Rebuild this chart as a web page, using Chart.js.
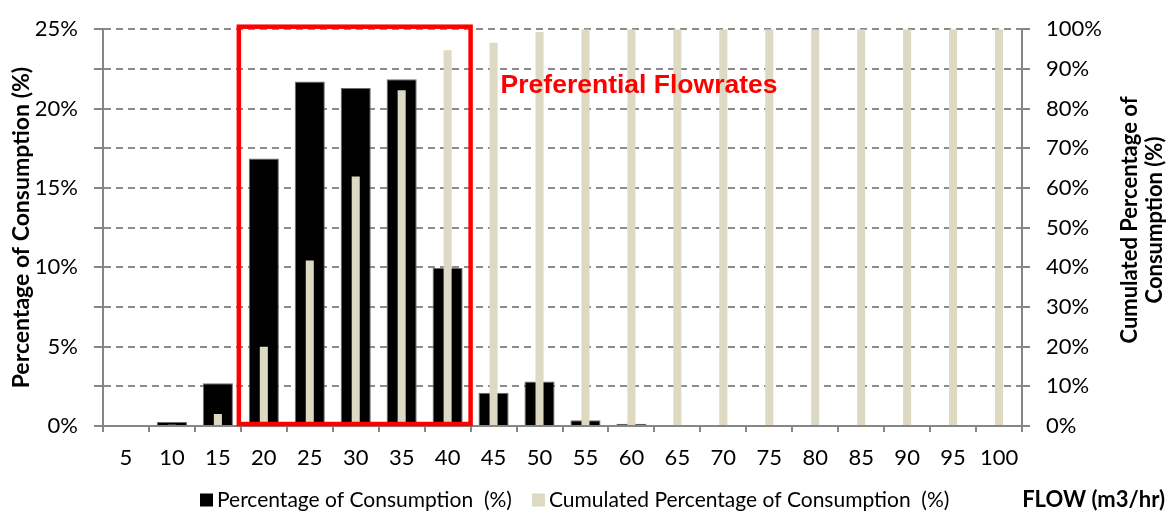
<!DOCTYPE html>
<html>
<head>
<meta charset="utf-8">
<script src="https://cdn.jsdelivr.net/npm/chart.js@4.4.1/dist/chart.umd.min.js"></script>
<style>
  html, body { margin: 0; padding: 0; background: #ffffff; }
  #wrap { width: 1175px; height: 511px; position: relative; }
</style>
</head>
<body>
<div id="wrap"><canvas id="c" width="1175" height="511"></canvas></div>
<script>
// ---- data ----
const flowCategories = ['5','10','15','20','25','30','35','40','45','50','55','60','65','70','75','80','85','90','95','100'];
const consumptionPct = [0, 0.25, 2.7, 16.85, 21.7, 21.3, 21.85, 9.95, 2.1, 2.8, 0.37, 0.14, 0, 0, 0, 0, 0, 0, 0, 0];
const cumulatedPct   = [0, 0.3, 3.0, 20.0, 41.7, 62.9, 84.6, 94.7, 96.6, 99.3, 100, 100, 100, 100, 100, 100, 100, 100, 100, 100];
const leftAxisMax = 25;
const leftTickStep = 2.5;
const leftLabelStep = 5;
const rightAxisMax = 100;
const rightTickStep = 10;
const highlightRange = ['20', '40'];
const highlightLabel = 'Preferential Flowrates';
const seriesNames = ['Percentage of Consumption  (%)', 'Cumulated Percentage of Consumption  (%)'];
const leftTitle = 'Percentage of Consumption (%)';
const rightTitle = ['Cumulated Percentage of', 'Consumption (%)'];
const flowTitle = 'FLOW (m3/hr)';

Chart.defaults.font.family = "Lato, 'Liberation Sans', sans-serif";
Chart.defaults.color = '#000000';

const AXIS_GREY = '#868686';
const GRID_GREY = '#8c8c8c';
const BEIGE = '#DDD9C3';

const highlightPlugin = {
  id: 'highlight',
  afterDatasetsDraw(chart) {
    const {ctx, scales: {x, y}} = chart;
    const i0 = flowCategories.indexOf(highlightRange[0]);
    const i1 = flowCategories.indexOf(highlightRange[1]);
    const half = (x.getPixelForValue(1) - x.getPixelForValue(0)) / 2;
    const left = x.getPixelForValue(i0) - half - 2;
    const right = x.getPixelForValue(i1) + half;
    const top = y.getPixelForValue(leftAxisMax) - 2.5;
    const bottom = y.getPixelForValue(0) - 2;
    ctx.save();
    ctx.strokeStyle = '#ff0000';
    ctx.lineWidth = 4.5;
    ctx.strokeRect(left, top, right - left, bottom - top);
    ctx.fillStyle = '#ff0000';
    ctx.font = "bold 26.5px 'Liberation Sans', Arial, sans-serif";
    ctx.textAlign = 'left';
    ctx.textBaseline = 'middle';
    ctx.fillText(highlightLabel, right + 30, y.getPixelForValue(21.45));
    ctx.restore();
  }
};

const extrasPlugin = {
  id: 'extras',
  afterDraw(chart) {
    const {ctx} = chart;
    ctx.save();
    // right axis title (reads bottom-to-top)
    ctx.fillStyle = '#000';
    ctx.font = "bold 22px Lato, sans-serif";
    ctx.textAlign = 'center';
    ctx.textBaseline = 'middle';
    const cy = 220;
    const xs = [1130, 1155];
    rightTitle.forEach((line, k) => {
      ctx.save();
      ctx.translate(xs[k], cy);
      ctx.rotate(-Math.PI / 2);
      ctx.fillText(line, 0, 0);
      ctx.restore();
    });
    // legend
    ctx.font = "21px Lato, sans-serif";
    ctx.textAlign = 'left';
    let lx = 200;
    const ly = 500;
    chart.data.datasets.forEach((ds) => {
      ctx.fillStyle = ds.backgroundColor;
      ctx.fillRect(lx, ly - 6.5, 13, 13);
      ctx.fillStyle = '#000';
      ctx.fillText(ds.label, lx + 17, ly);
      lx += 17 + ctx.measureText(ds.label).width + 20;
    });
    // flow axis title
    ctx.font = "bold 22px Lato, sans-serif";
    ctx.textAlign = 'right';
    ctx.fillText(flowTitle, 1165, ly);
    ctx.restore();
  }
};

new Chart(document.getElementById('c'), {
  type: 'bar',
  data: {
    labels: flowCategories,
    datasets: [
      {
        label: seriesNames[0],
        data: consumptionPct,
        backgroundColor: '#000000',
        borderColor: '#6e6e6e',
        borderWidth: 1,
        yAxisID: 'y',
        grouped: false,
        barPercentage: 0.655,
        categoryPercentage: 1,
        order: 2
      },
      {
        label: seriesNames[1],
        data: cumulatedPct,
        backgroundColor: BEIGE,
        borderWidth: 0,
        yAxisID: 'y1',
        grouped: false,
        barPercentage: 0.175,
        categoryPercentage: 1,
        order: 1
      }
    ]
  },
  options: {
    responsive: false,
    animation: false,
    layout: { padding: { top: 22, bottom: 31, left: 0, right: 0 } },
    plugins: { legend: { display: false }, tooltip: { enabled: false } },
    scales: {
      x: {
        offset: true,
        grid: { offset: true, drawOnChartArea: false, tickLength: 6, color: AXIS_GREY, lineWidth: 2 },
        border: { color: AXIS_GREY, width: 2 },
        ticks: { font: { size: 22 }, padding: 13, maxRotation: 0, autoSkip: false },
        afterFit(s) { s.height = 54; }
      },
      y: {
        position: 'left',
        min: 0, max: leftAxisMax,
        ticks: {
          stepSize: leftTickStep,
          callback: v => (Math.abs(v % leftLabelStep) < 1e-9 ? v + '%' : ''),
          font: { size: 22 }, padding: 16
        },
        grid: { color: GRID_GREY, lineWidth: 2, tickLength: 9, tickColor: AXIS_GREY },
        border: { dash: [7, 5], color: AXIS_GREY, width: 2 },
        title: { display: true, text: leftTitle, font: { size: 23, weight: 'bold' }, padding: { top: 8, bottom: 0 } },
        afterFit(s) { s.width = 103; }
      },
      y1: {
        position: 'right',
        min: 0, max: rightAxisMax,
        ticks: { stepSize: rightTickStep, callback: v => v + '%', font: { size: 22 }, padding: 16 },
        grid: { drawOnChartArea: false, tickLength: 8, color: AXIS_GREY, lineWidth: 2 },
        border: { color: AXIS_GREY, width: 2 },
        afterFit(s) { s.width = 153; }
      }
    }
  },
  plugins: [highlightPlugin, extrasPlugin]
});
</script>
</body>
</html>
